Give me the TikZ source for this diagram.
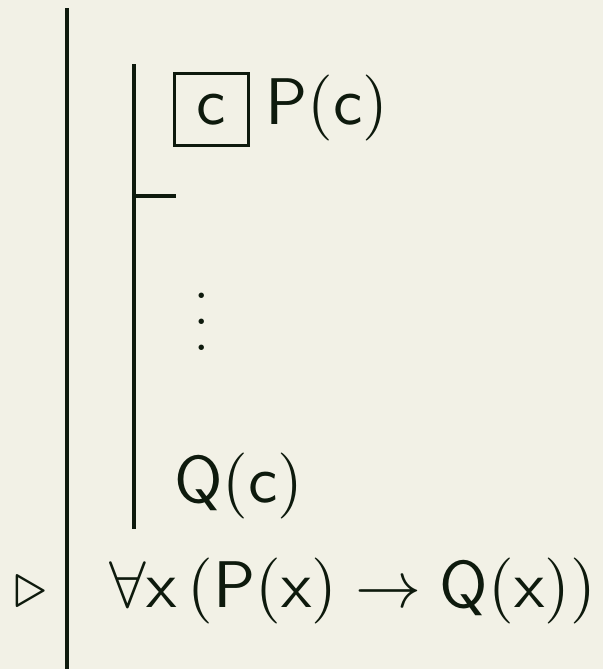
\documentclass[tikz,border=0pt]{standalone}
\usepackage{fix-cm}
\usepackage{amsmath}
\usepackage{tikz}
\usepackage{xcolor}
\usetikzlibrary{positioning}
\definecolor{papercream}{HTML}{F2F1E6}
\definecolor{inkdark}{HTML}{0E1A0D}
\font\refsans=cmss10 at 33pt
\font\refparen=cmr10 at 33pt
\newcommand{\lp}{{\refparen(}}
\newcommand{\rp}{{\refparen)}}
\newcommand{\impl}{$\;\rightarrow\;$}
\tikzset{
  % Fitch bars
  fitchbar/.style={draw=inkdark, line width=1.75pt},
  % Formulas on the proof lines
  formula/.style={
    anchor=base west, inner sep=0pt, text=inkdark,
    font=\fontsize{33}{40}\selectfont\refsans,
  },
  % Boxed eigenvariable
  varbox/.style={
    draw=inkdark, line width=1.5pt, inner sep=0pt, text=inkdark,
    minimum width=37pt, minimum height=36pt,
    font=\fontsize{33}{40}\selectfont\refsans,
  },
  dotstack/.style={
    inner sep=0pt, align=center, text=inkdark,
    font=\fontsize{33}{13}\selectfont,
  },
}
\begin{document}
\begin{tikzpicture}[x=0.5pt, y=-0.5pt]
  \fill[papercream] (0,0) rectangle (603,669);
  \useasboundingbox (0,0) rectangle (603,669);

  % bars
  \coordinate (outertop) at (67,8);
  \coordinate (outerbot) at (67,669);
  \coordinate (innertop) at (134,64);
  \coordinate (innerbot) at (134,529);
  \coordinate (hypsplit) at (134,196);
  \coordinate (hypend) at (176,196);
  \draw[fitchbar] (outertop) -- (outerbot);
  \draw[fitchbar] (innertop) -- (innerbot);
  \draw[fitchbar] (hypsplit) -- (hypend);

  % subproof
  \node[varbox] (eigvar) at (211.5,109.5) {c};
  \node[formula] (hyp) at (265,124) {P\lp c\rp};
  \node[dotstack] (gap) at (202,322) {.\\.\\.};
  \node[formula] (goal) at (174,502) {Q\lp c\rp};

  % conclusion
  \node[formula] (mark) at (14,607) {$\triangleright$};
  \node[formula] (concl) at (109,607) {$\forall$x\,\lp P\lp x\rp\impl Q\lp x\rp\rp};
\end{tikzpicture}
\end{document}
